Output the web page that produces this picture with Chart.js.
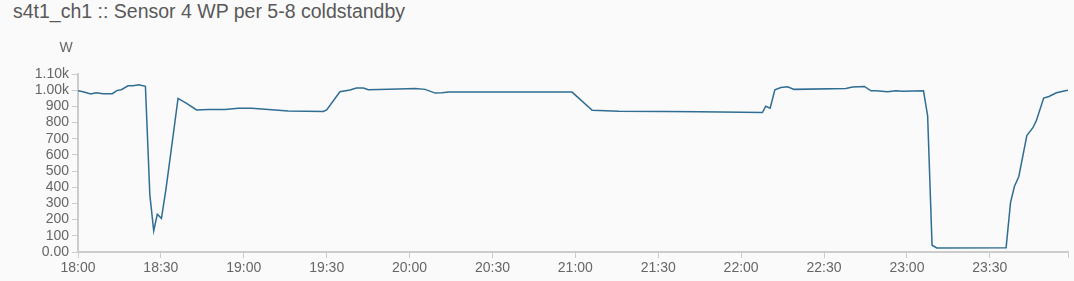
<!DOCTYPE html>
<html>
<head>
<meta charset="utf-8">
<script src="https://cdn.jsdelivr.net/npm/chart.js@4.4.0/dist/chart.umd.min.js"></script>
<style>
  html, body { margin: 0; padding: 0; background: #fafafa; }
  #wrap { position: relative; width: 1074px; height: 281px; }
  #title { position: absolute; left: 13px; top: 0px; font-family: "Liberation Sans", Arial, sans-serif; font-size: 19.5px; color: #595959; white-space: nowrap; }
  canvas { position: absolute; left: 0; top: 0; }
</style>
</head>
<body>
<div id="wrap">
  <div id="title">s4t1_ch1 :: Sensor 4 WP per 5-8 coldstandby</div>
  <canvas id="c" width="1074" height="281"></canvas>
</div>
<script>
// minutes after 18:00
const minutes = [0, 1.8, 4.6, 6.6, 9, 12.4, 14.2, 15.7, 18.1, 19.9, 22, 24.4, 26, 27.4, 28.7, 30.2, 31.8, 34.4, 36.2, 39.3, 42.9, 47.1, 53.2, 58, 62.8, 68.9, 76.1, 88.8, 90, 94.8, 98.4, 100.8, 103.3, 105.1, 116, 122, 125.6, 129.3, 131.7, 134.1, 178.8, 186.1, 195.8, 212.7, 224.8, 247.7, 248.9, 250.5, 252.2, 254.4, 256.8, 259.2, 277.9, 280.3, 284.6, 287, 288.8, 293, 296, 298.5, 306, 307.5, 309.1, 310.8, 335.9, 337.5, 338.9, 340.5, 343.4, 345.6, 346.8, 349.5, 351.4, 354.1, 356.5, 358.3];
const watts = [996, 990, 976, 984, 978, 978, 999, 1003, 1027, 1027, 1034, 1024, 353, 131, 233, 208, 384, 716, 949, 918, 878, 880, 880, 889, 889, 880, 872, 868, 878, 990, 1001, 1013, 1013, 1003, 1007, 1011, 1005, 982, 984, 988, 988, 876, 870, 868, 866, 862, 901, 889, 1003, 1017, 1021, 1005, 1011, 1019, 1023, 996, 996, 990, 996, 994, 996, 841, 42, 25, 27, 305, 405, 467, 720, 768, 810, 951, 961, 984, 994, 1000];
const xTickLabels = ["18:00", "18:30", "19:00", "19:30", "20:00", "20:30", "21:00", "21:30", "22:00", "22:30", "23:00", "23:30"];
const yTickLabels = ["0.00", "100", "200", "300", "400", "500", "600", "700", "800", "900", "1.00k", "1.10k"];

const points = minutes.map((m, i) => ({ x: m, y: watts[i] }));
const font = { family: '"Liberation Sans", Arial, sans-serif', size: 14 };

const unitLabel = {
  id: 'unitLabel',
  afterDraw(chart) {
    const ctx = chart.ctx;
    ctx.save();
    ctx.font = '14px "Liberation Sans", Arial, sans-serif';
    ctx.fillStyle = '#666';
    ctx.textAlign = 'center';
    ctx.textBaseline = 'middle';
    ctx.fillText('W', chart.chartArea.left - 12, 48);
    ctx.restore();
  }
};

new Chart(document.getElementById('c'), {
  type: 'line',
  data: {
    datasets: [{
      data: points,
      borderColor: '#2f6d93',
      borderWidth: 1.5,
      pointRadius: 0,
      tension: 0,
      fill: false
    }]
  },
  options: {
    responsive: false,
    animation: false,
    layout: { padding: { top: 74, right: 6, left: 0, bottom: 0 } },
    plugins: { legend: { display: false }, tooltip: { enabled: false } },
    scales: {
      x: {
        type: 'linear',
        min: 0,
        max: 358.3,
        ticks: {
          stepSize: 30,
          autoSkip: false,
          maxRotation: 0,
          color: '#666',
          font: font,
          padding: 2,
          callback: (v) => (v % 30 === 0 && xTickLabels[v / 30] !== undefined) ? xTickLabels[v / 30] : ''
        },
        grid: { display: true, drawOnChartArea: false, drawTicks: true, tickLength: 6, color: '#ccc' },
        border: { color: '#ccc', width: 2 },
        afterFit: (s) => { s.height = 29; }
      },
      y: {
        min: 0,
        max: 1100,
        ticks: {
          stepSize: 100,
          autoSkip: false,
          color: '#666',
          font: font,
          padding: 3,
          callback: (v) => yTickLabels[Math.round(v / 100)]
        },
        grid: { display: true, drawOnChartArea: false, drawTicks: true, tickLength: 6, color: '#ccc' },
        border: { color: '#ccc', width: 2 },
        afterFit: (s) => { s.width = 78; }
      }
    }
  },
  plugins: [unitLabel]
});
</script>
</body>
</html>
